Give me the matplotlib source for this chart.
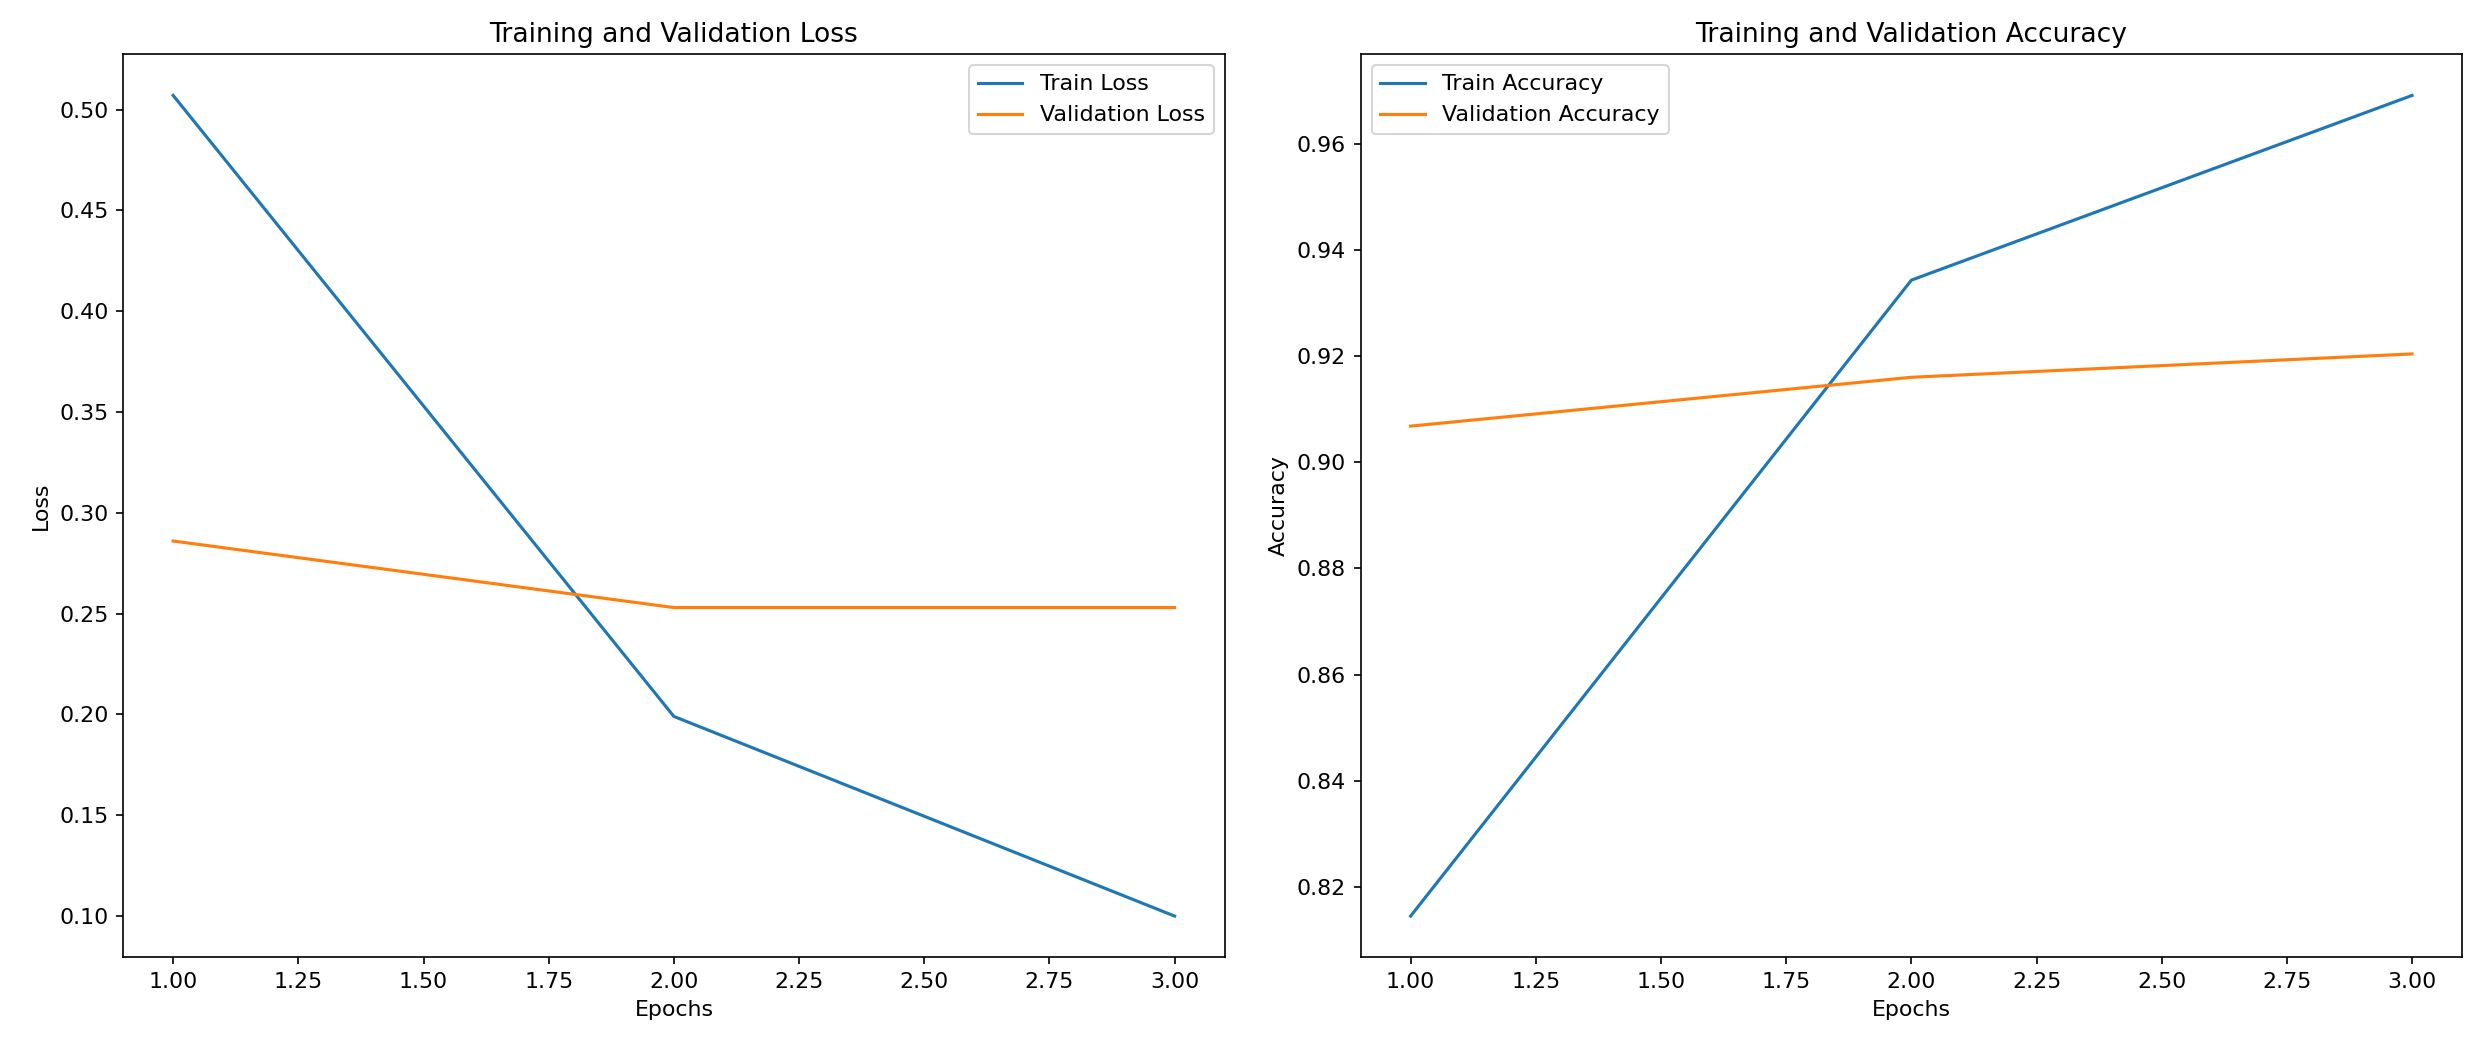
import matplotlib

matplotlib.use("Agg")
import matplotlib.pyplot as plt

EPOCHS = [1, 2, 3]
TRAIN_LOSS = [0.507, 0.199, 0.100]
VAL_LOSS = [0.286, 0.253, 0.253]
TRAIN_ACC = [0.8145, 0.9343, 0.9691]
VAL_ACC = [0.9068, 0.9160, 0.9204]

DPI = 150
plt.rcParams["font.size"] = 10.6


def main() -> None:
    fig, (ax_loss, ax_acc) = plt.subplots(1, 2, figsize=(2477 / DPI, 1046 / DPI), dpi=DPI)
    fig.subplots_adjust(left=0.0497, right=0.994, top=0.948, bottom=0.085, wspace=0.1234)

    ax_loss.plot(EPOCHS, TRAIN_LOSS, label="Train Loss")
    ax_loss.plot(EPOCHS, VAL_LOSS, label="Validation Loss")
    ax_loss.set_title("Training and Validation Loss")
    ax_loss.set_xlabel("Epochs")
    ax_loss.set_ylabel("Loss")
    ax_loss.legend(loc="upper right")

    ax_acc.plot(EPOCHS, TRAIN_ACC, label="Train Accuracy")
    ax_acc.plot(EPOCHS, VAL_ACC, label="Validation Accuracy")
    ax_acc.set_title("Training and Validation Accuracy")
    ax_acc.set_xlabel("Epochs")
    ax_acc.set_ylabel("Accuracy")
    ax_acc.legend(loc="upper left")

    fig.savefig("out.png", dpi=DPI)


main() if __name__ == "__main__" else None
